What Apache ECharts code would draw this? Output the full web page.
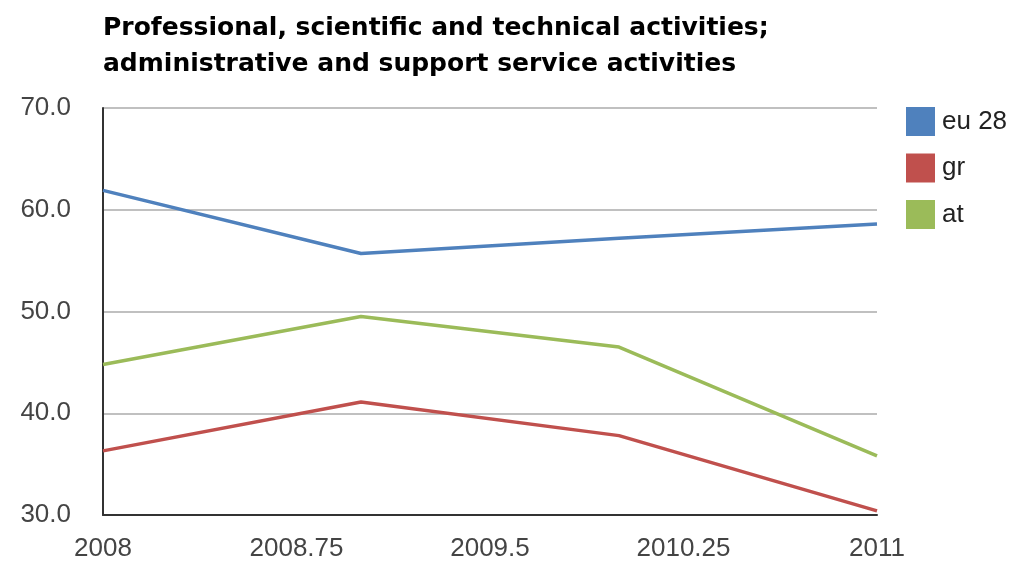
<!DOCTYPE html>
<html>
<head>
<meta charset="utf-8">
<script src="https://cdn.jsdelivr.net/npm/echarts@6/dist/echarts.min.js"></script>
<style>html,body{margin:0;padding:0;background:#fff}#c{width:1021px;height:564px}</style>
</head>
<body>
<div id="c"></div>
<script>
const years = [2008, 2009, 2010, 2011];
const eu28 = [61.9, 55.7, 57.2, 58.6];
const gr = [36.3, 41.1, 37.8, 30.4];
const at = [44.8, 49.5, 46.5, 35.8];
const seriesNames = ['eu 28', 'gr', 'at'];
const colors = ['#4F81BD', '#C0504D', '#9BBB59'];
const titleText = 'Professional, scientific and technical activities;\nadministrative and support service activities';

const pairs = arr => years.map((y, i) => [y, arr[i]]);
const chart = echarts.init(document.getElementById('c'));
chart.setOption({
  animation: false,
  backgroundColor: '#fff',
  title: {
    text: titleText,
    left: 98, top: 5,
    textStyle: {fontFamily: 'DejaVu Sans', fontWeight: 'bold', fontSize: 25, color: '#000', lineHeight: 36}
  },
  legend: {
    orient: 'vertical', left: 906, top: 107, padding: 0,
    itemWidth: 29, itemHeight: 29, itemGap: 17.5,
    icon: 'rect',
    textStyle: {fontFamily: 'Liberation Sans', fontSize: 26, color: '#222', padding: [0, 0, 0, 2]},
    data: seriesNames
  },
  grid: {left: 103, right: 144, top: 108, bottom: 49},
  xAxis: {
    type: 'value', min: 2008, max: 2011, interval: 0.75,
    axisLine: {show: true, lineStyle: {color: '#333', width: 2}},
    axisTick: {show: false},
    splitLine: {show: false},
    axisLabel: {fontFamily: 'Liberation Sans', fontSize: 26, color: '#444', margin: 21,
      formatter: v => String(+v.toFixed(2))}
  },
  yAxis: {
    type: 'value', min: 30, max: 70, interval: 10,
    axisLine: {show: true, lineStyle: {color: '#333', width: 2}},
    axisTick: {show: false},
    splitLine: {lineStyle: {color: '#c0c0c0', width: 2}},
    axisLabel: {fontFamily: 'Liberation Sans', fontSize: 26, color: '#444', margin: 32,
      formatter: v => v.toFixed(1)}
  },
  series: [
    {name: seriesNames[0], type: 'line', data: pairs(eu28), color: colors[0], symbol: 'none', lineStyle: {width: 3.5}},
    {name: seriesNames[1], type: 'line', data: pairs(gr), color: colors[1], symbol: 'none', lineStyle: {width: 3.5}},
    {name: seriesNames[2], type: 'line', data: pairs(at), color: colors[2], symbol: 'none', lineStyle: {width: 3.5}}
  ]
});
</script>
</body>
</html>
